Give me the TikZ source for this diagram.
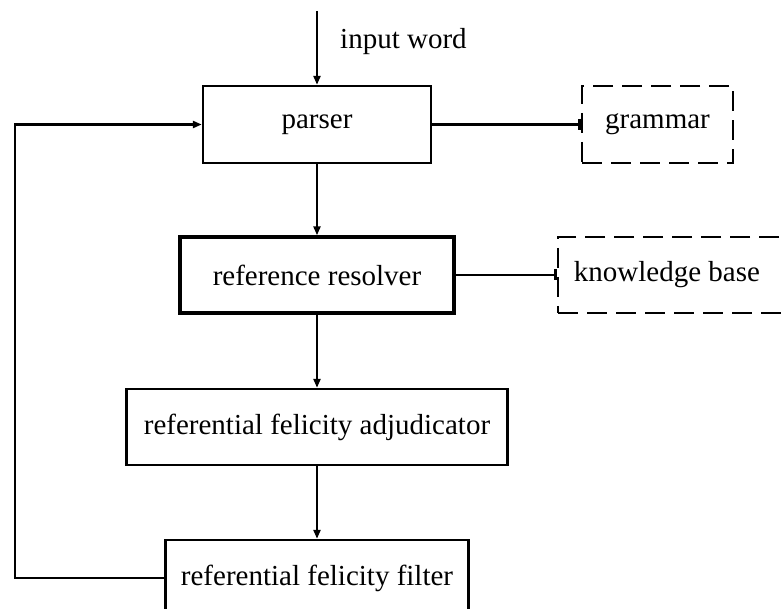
\documentclass[tikz,border=0pt]{standalone}
\usepackage{fontspec}
\setmainfont{Liberation Serif}
\usetikzlibrary{arrows.meta}
\begin{document}
\begin{tikzpicture}[x=1pt,y=-1pt,
  font=\fontsize{29}{34}\selectfont,
  box/.style={draw,line width=2.4pt,inner sep=0pt,anchor=center},
  dbox/.style={box,line width=2.6pt,dash pattern=on 20pt off 9pt},
  conn/.style={line width=2.3pt},
  arr/.style={conn,-{Triangle[length=9pt,width=7pt]}},
  bar/.style={conn,-{Bar[width=11pt,line width=2.3pt]}}]
\useasboundingbox (0,0) rectangle (782,609);
\clip (0,0) rectangle (782,609);
\node[box,minimum width=228pt,minimum height=77pt] (parser) at (317,124.5) {parser};
\node[dbox,minimum width=151pt,minimum height=77pt] (grammar) at (657.5,124.5) {grammar};
\node[box,line width=3.4pt,minimum width=274pt,minimum height=76pt] (resolver) at (317,275) {reference resolver};
\node[dbox,minimum width=232pt,minimum height=76pt] (kb) at (674,275) {};
\node (kbtext) at (667,275) {knowledge base};
\node[box,minimum width=381pt,minimum height=76pt] (adj) at (317,427) {referential felicity adjudicator};
\node[box,minimum width=303pt,minimum height=76pt] (filter) at (317,578) {referential felicity filter};
\coordinate (in) at (317,11);
\node[anchor=west,inner sep=0pt] (inlabel) at (340,42) {input word};
\coordinate (fbl) at (15,578);
\coordinate (fbu) at (15,124.5);
\draw[arr] (in) -- (parser.north);
\draw[bar,line width=2.9pt] (parser.east) -- (grammar.west);
\draw[bar] (resolver.east) -- (kb.west);
\draw[arr] (parser.south) -- (resolver.north);
\draw[arr] (resolver.south) -- (adj.north);
\draw[arr] (adj.south) -- (filter.north);
\draw[arr,line width=2.9pt] (filter.west) -- (fbl) -- (fbu) -- (parser.west);
\end{tikzpicture}
\end{document}
